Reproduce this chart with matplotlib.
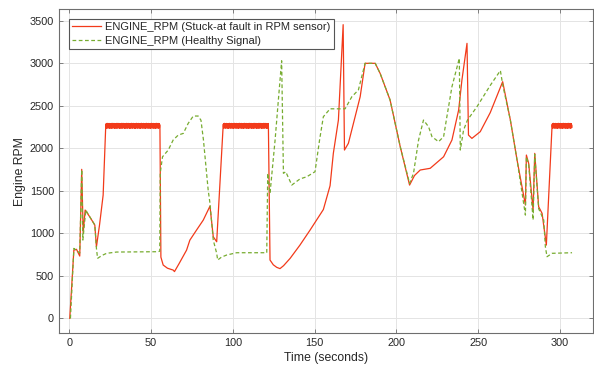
#!/usr/bin/env python3
# -*- coding: utf-8 -*-
import numpy as np
import matplotlib
matplotlib.use('Agg')
import matplotlib.pyplot as plt

plt.rcParams['font.family'] = ['Liberation Sans', 'DejaVu Sans']

FAULT_LABEL = 'ENGINE_RPM (Stuck-at fault in RPM sensor)'
HEALTHY_LABEL = 'ENGINE_RPM (Healthy Signal)'
FAULT_COLOR = '#F23A1A'
HEALTHY_COLOR = '#77AC30'
AXIS_GREY = '#6e6e6e'
TEXT_GREY = '#262626'

# faulty signal, outside of the stuck-at windows
fault_t = [0.3, 2.8, 4.4, 6.4, 7.6, 8.5, 9.7, 12.5, 15.6, 16.6, 18.5, 20.7, 22.3,
           None,
           55.4, 56.0, 57.4, 60.0, 63.5, 64.3, 67.0, 71.7, 73.7, 77.8, 81.9, 86.0,
           88.0, 90.1, 94.1,
           None,
           121.7, 122.7, 124.7, 126.8, 128.8, 131.0, 135.0, 141.0, 147.2, 155.3,
           159.4, 161.4, 164.5, 167.4, 168.2, 170.6, 177.8, 180.8, 187.0, 190.0,
           196.1, 202.3, 208.0, 211.0, 214.5, 220.6, 228.8, 233.9, 238.0, 240.0,
           243.1, 244.0, 246.1, 251.2, 257.3, 264.9, 269.6, 273.7, 278.8, 279.4,
           280.8, 283.5, 284.5, 286.9, 289.0, 291.6, 295.1]
fault_rpm = [0, 803, 812, 733, 1753, 1003, 1274, 1195, 1098, 842, 1100, 1450, 2270,
             None,
             2270, 720, 627, 590, 568, 550, 640, 803, 920, 1039, 1156, 1320,
             960, 901, 2280,
             None,
             2270, 686, 630, 600, 585, 620, 706, 862, 1039, 1280,
             1560, 1941, 2333, 3455, 1980, 2059, 2607, 3000, 3000, 2882,
             2568, 2019, 1568, 1680, 1745, 1765, 1901, 2098, 2451, 2804,
             3235, 2156, 2117, 2196, 2420, 2784, 2333, 1862, 1333, 1921,
             1823, 1274, 1941, 1313, 1235, 862, 2270]

# stuck-at windows: start, end, level and a jitter
stuck_start = [22.3, 94.1, 295.1]
stuck_end = [55.4, 121.7, 307.3]
stuck_level = 2265
stuck_jitter = [12, -18, 25, -30, 5, 28, -22, 15, -8, 30, -25, 20, -12, 26, -28,
                8, 22, -20, 18, -15, 29, -26, 10, -5, 24, -29, 14, -10, 27, -21]

healthy_t = [0.7, 1.5, 2.8, 6.4, 7.6, 8.3, 10.1, 12.5, 15.6, 16.6, 17.3, 20.0,
             22.8, 28.9, 54.3, 55.3, 55.6, 57.0, 60.5, 63.5, 66.6, 69.7, 72.7,
             75.8, 78.8, 80.5, 82.0, 84.9, 86.0, 88.0, 90.1, 90.7, 93.0, 96.2,
             102.3, 120.7, 121.3, 122.7, 125.8, 127.8, 129.8, 130.9, 132.3, 136.0,
             141.0, 145.2, 150.2, 153.0, 155.3, 159.4, 168.6, 172.7, 176.7, 180.8,
             187.0, 190.0, 196.1, 202.3, 208.0, 210.4, 213.5, 216.5, 219.6, 221.7,
             225.7, 228.8, 230.8, 233.9, 238.4, 239.0, 241.0, 243.4, 249.2, 257.3,
             263.5, 265.0, 269.6, 273.7, 278.8, 279.4, 280.8, 283.5, 284.5, 286.9,
             290.0, 291.0, 292.0, 295.1, 307.3]
healthy_rpm = [0, 300, 823, 768, 1750, 921, 1274, 1195, 1098, 823, 706, 740,
               765, 780, 784, 790, 1709, 1901, 1980, 2098, 2156, 2176, 2294,
               2380, 2380, 2330, 2100, 1509, 1353, 921, 765, 686, 720, 745,
               772, 772, 1706, 1470, 2098, 2568, 3030, 1706, 1725, 1568,
               1640, 1666, 1725, 2100, 2372, 2465, 2465, 2607, 2686, 3000,
               3000, 2882, 2568, 2019, 1588, 1706, 2098, 2333, 2254, 2137,
               2078, 2137, 2372, 2725, 3059, 1980, 2215, 2333, 2490, 2740,
               2915, 2740, 2333, 1862, 1215, 1900, 1810, 1157, 1930, 1290,
               1157, 843, 725, 765, 772]

X_TICKS = [0, 50, 100, 150, 200, 250, 300]
Y_TICKS = [0, 500, 1000, 1500, 2000, 2500, 3000, 3500]


def to_array(values):
    return np.array([np.nan if v is None else v for v in values], dtype=float)


def build_graph():
    fig = plt.figure(figsize=(5.94, 3.72), dpi=100)
    ax = fig.add_axes([0.099, 0.104, 0.899, 0.872])

    ax.plot(to_array(fault_t), to_array(fault_rpm), color=FAULT_COLOR, lw=0.9,
            label=FAULT_LABEL, zorder=3)
    for start, end in zip(stuck_start, stuck_end):
        t = np.arange(start, end, 0.1)
        rpm = stuck_level + np.resize(stuck_jitter, len(t))
        ax.plot(t, rpm, color=FAULT_COLOR, lw=0.8, zorder=3)

    ax.plot(healthy_t, healthy_rpm, color=HEALTHY_COLOR, lw=0.9,
            linestyle=(0, (3, 2)), label=HEALTHY_LABEL, zorder=4)

    ax.set_xlim(-6.4, 320)
    ax.set_ylim(-176, 3640)
    ax.set_xticks(X_TICKS)
    ax.set_yticks(Y_TICKS)
    ax.grid(True, color='#e4e4e4', lw=0.7)
    ax.set_axisbelow(True)

    for side in ax.spines.values():
        side.set_color(AXIS_GREY)
        side.set_linewidth(0.8)
    ax.tick_params(direction='in', length=3, width=0.6, color=AXIS_GREY,
                   labelsize=7.8, labelcolor=TEXT_GREY, top=True, right=True)

    ax.set_xlabel('Time (seconds)', fontsize=8.8, color=TEXT_GREY, labelpad=3)
    ax.set_ylabel('Engine RPM', fontsize=8.8, color=TEXT_GREY, labelpad=3)

    leg = ax.legend(loc='upper left', fontsize=8, fancybox=False,
                    framealpha=1, edgecolor='#555555', borderaxespad=0.9,
                    labelspacing=0.3, handlelength=2.6, handletextpad=0.4,
                    borderpad=0.3)
    leg.get_frame().set_linewidth(0.8)
    for txt in leg.get_texts():
        txt.set_color(TEXT_GREY)

    fig.savefig('out.png', dpi=100)


if __name__ == '__main__':
    build_graph()
